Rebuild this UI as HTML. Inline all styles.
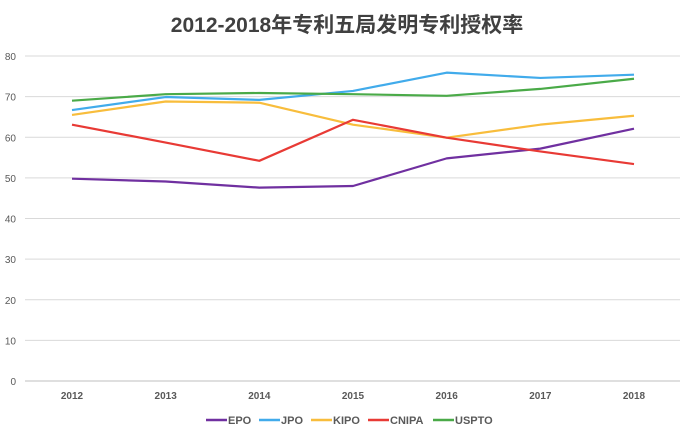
<!DOCTYPE html>
<html><head><meta charset="utf-8"><style>
body{margin:0;background:#fff;}
svg text{font-family:"Liberation Sans","Noto Sans CJK SC",sans-serif;}
</style></head><body>
<svg id="chart" width="694" height="440" xmlns="http://www.w3.org/2000/svg">
<rect width="694" height="440" fill="#fff"/>
<text x="347" y="32" text-anchor="middle" font-size="21" font-weight="bold" fill="#404040">2012-2018年专利五局发明专利授权率</text>
<g id="grid"></g><g id="xl"></g><g id="series"></g><g id="legend"></g>
</svg>
<script>
const categories=["2012","2013","2014","2015","2016","2017","2018"];
const yTicks=[0,10,20,30,40,50,60,70,80];
const seriesNames=["EPO","JPO","KIPO","CNIPA","USPTO"];
const seriesColors=["#7030a0","#41abeb","#f8bd3c","#e83a35","#4aaa48"];
const epo=[49.8,49.1,47.6,48.0,54.8,57.2,62.1];
const jpo=[66.7,69.9,69.2,71.4,75.9,74.6,75.4];
const kipo=[65.5,68.8,68.5,63.1,59.9,63.1,65.3];
const cnipa=[63.1,58.7,54.2,64.3,59.9,56.5,53.4];
const uspto=[69.0,70.6,70.9,70.6,70.2,71.9,74.4];
const seriesValues=[epo,jpo,kipo,cnipa,uspto];
const NS="http://www.w3.org/2000/svg";
const x0=72,x1=634,yBase=381,yTop=56,yMax=80;
const xs=i=>x0+i*(x1-x0)/(categories.length-1);
const ys=v=>yBase-(v/yMax)*(yBase-yTop);
function mk(t,a,p){const e=document.createElementNS(NS,t);for(const k in a)e.setAttribute(k,a[k]);p.appendChild(e);return e;}
const grid=document.getElementById('grid');
yTicks.forEach(v=>{
 const l=mk('line',{x1:25,x2:680,y1:ys(v),y2:ys(v),stroke:v===0?'#bfbfbf':'#d9d9d9','stroke-width':1},grid);
 
 
 const t=mk('text',{x:16,y:ys(v)+4,'text-anchor':'end','font-size':10,fill:'#595959'},grid);
 t.textContent=v;
 
 
});
const xl=document.getElementById('xl');
categories.forEach((c,i)=>{
 const t=mk('text',{x:xs(i),y:399,'text-anchor':'middle','font-size':10,'font-weight':'bold',fill:'#595959'},xl);
 t.textContent=c;
 
 
});
const sg=document.getElementById('series');
seriesValues.forEach((vals,s)=>{
 const p=mk('polyline',{points:vals.map((v,i)=>xs(i)+','+ys(v)).join(' '),fill:'none',stroke:seriesColors[s],'stroke-width':2.2,'stroke-linejoin':'round'},sg);
 
 
});
const lg=document.getElementById('legend');
const lx=[206,259,311,368,433];
seriesNames.forEach((n,s)=>{
 const g=mk('g',{},lg);
 
 
 mk('line',{x1:lx[s],x2:lx[s]+21,y1:420,y2:420,stroke:seriesColors[s],'stroke-width':2.5},g);
 const t=mk('text',{x:lx[s]+22,y:424,'font-size':11,'font-weight':'bold',fill:'#595959'},g);
 t.textContent=n;
});
</script>
</body></html>
